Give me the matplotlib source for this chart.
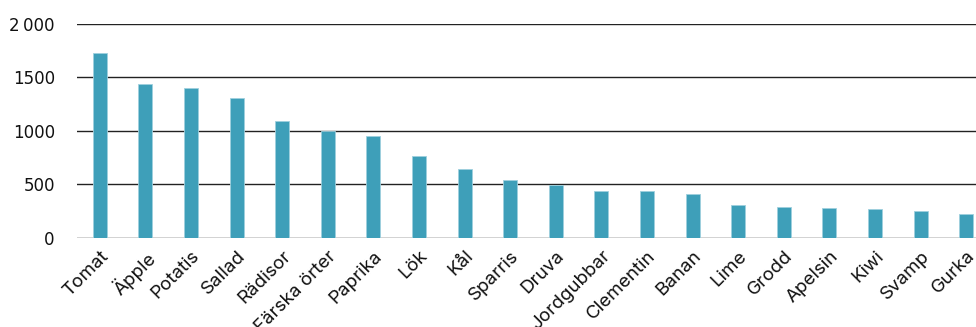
import matplotlib.pyplot as plt
import numpy as np

plt.rcParams['font.family'] = ['Inter', 'DejaVu Sans']

produce = ["Tomat", "Äpple", "Potatis", "Sallad", "Rädisor", "Färska örter",
           "Paprika", "Lök", "Kål", "Sparris", "Druva", "Jordgubbar",
           "Clementin", "Banan", "Lime", "Grodd", "Apelsin", "Kiwi",
           "Svamp", "Gurka"]
amounts = [1730, 1440, 1400, 1310, 1090, 1000, 955, 765, 645, 535,
           495, 440, 435, 410, 310, 285, 280, 272, 250, 225]

y_ticks = [0, 500, 1000, 1500, 2000]
y_tick_labels = ["0", "500", "1000", "1500", "2\u202f000"]

fig = plt.figure(figsize=(9.76, 3.27), dpi=100)
ax = fig.add_axes([77 / 976, 89.3 / 327, 899 / 976, 214 / 327])

x = np.arange(len(produce))
ax.bar(x, amounts, width=0.31, color="#3E9FB9", edgecolor="#9fd0de",
       linewidth=0.6, zorder=3)

ax.set_ylim(0, 2000)
ax.set_xlim(-0.5, -0.5 + 899 / 45.6)
ax.set_yticks(y_ticks)
ax.set_yticklabels(y_tick_labels, family="DejaVu Sans", fontsize=12)
ax.yaxis.grid(True, color="#222222", linewidth=1.0, zorder=0)
ax.set_axisbelow(True)

ax.set_xticks(x)
ax.set_xticklabels(produce, rotation=45, ha="right", rotation_mode="anchor",
                   fontsize=13.5)

for side in ["top", "right", "left", "bottom"]:
    ax.spines[side].set_visible(False)

ax.tick_params(axis="y", length=0, pad=16, labelcolor="#111111")
ax.tick_params(axis="x", length=0, pad=7, labelcolor="#111111")

plt.savefig("out.png", dpi=100)
